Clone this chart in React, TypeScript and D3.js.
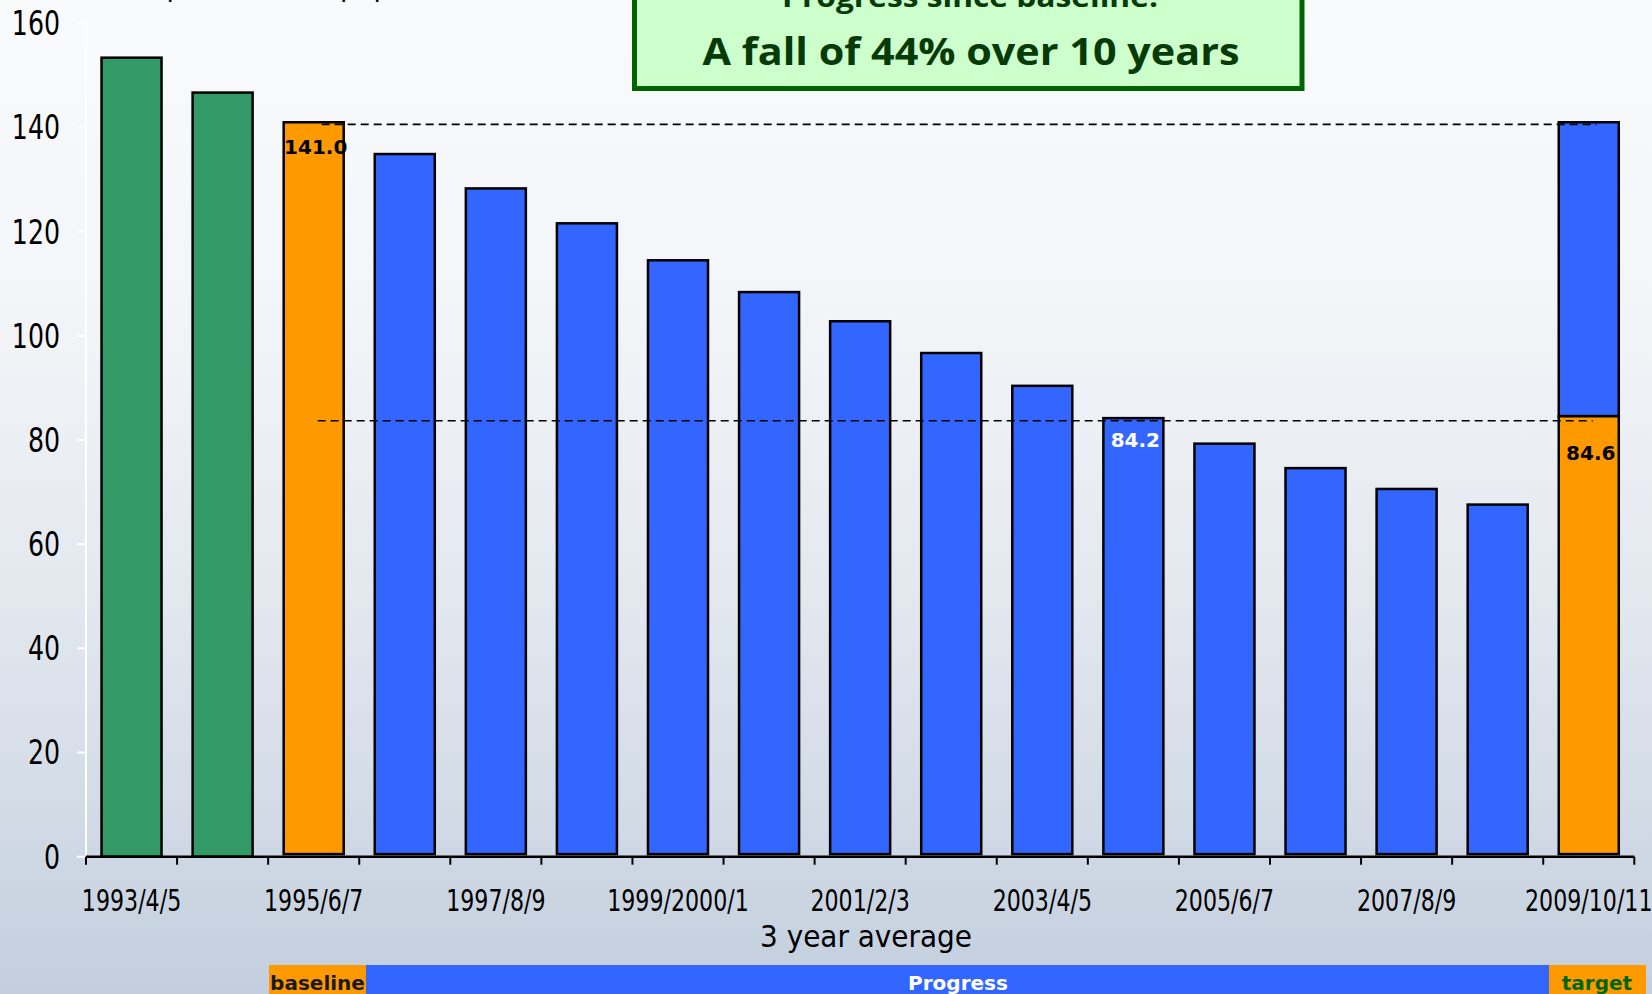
import React from "react";
import * as d3 from "d3";

const categories = [
  "1993/4/5", "1994/5/6", "1995/6/7", "1996/7/8", "1997/8/9", "1998/9/2000",
  "1999/2000/1", "2000/1/2", "2001/2/3", "2002/3/4", "2003/4/5", "2004/5/6",
  "2005/6/7", "2006/7/8", "2007/8/9", "2008/9/10", "2009/10/11",
];
const shownLabels = [
  "1993/4/5", "1995/6/7", "1997/8/9", "1999/2000/1", "2001/2/3",
  "2003/4/5", "2005/6/7", "2007/8/9", "2009/10/11",
];
// pre-baseline years (green)
const preBaseline: (number | null)[] = [153.4, 146.7, null, null, null, null, null, null, null, null, null, null, null, null, null, null, null];
// baseline and target (orange)
const baselineTarget: (number | null)[] = [null, null, 141.0, null, null, null, null, null, null, null, null, null, null, null, null, null, 84.6];
// progress (blue)
const progress: (number | null)[] = [null, null, null, 134.9, 128.3, 121.6, 114.5, 108.4, 102.8, 96.7, 90.4, 84.2, 79.3, 74.6, 70.6, 67.6, null];
// gap to baseline stacked on target (blue)
const targetGap: (number | null)[] = [null, null, null, null, null, null, null, null, null, null, null, null, null, null, null, null, 56.4];
const yTicks = [0, 20, 40, 60, 80, 100, 120, 140, 160];
const baselineValue = 140.6;
const targetLine = 83.7;
const valueLabels = [
  { cat: "1995/6/7", text: "141.0", value: 141.0, offset: 32, color: "#000" },
  { cat: "2004/5/6", text: "84.2", value: 84.2, offset: 29, color: "#fff" },
  { cat: "2009/10/11", text: "84.6", value: 84.6, offset: 44, color: "#000" },
];
const barBase = 0.5;

const W = 1652;
const H = 994;

const narrow = "'DejaVu Sans Condensed', 'DejaVu Sans', sans-serif";

function SqText(props: { x: number; y: number; sx: number; anchor: string; size: number; children: string; dy?: string }) {
  return (
    <g transform={`translate(${props.x},${props.y}) scale(${props.sx},1)`}>
      <text x={0} y={0} dy={props.dy} textAnchor={props.anchor} fontFamily={narrow} fontSize={props.size} fill="#000">
        {props.children}
      </text>
    </g>
  );
}

export default function App() {
  const x = d3.scaleBand<string>().domain(categories).range([86, 1634.3]).paddingInner(0.341).paddingOuter(0.1705);
  const y = d3.scaleLinear().domain([0, 160]).range([856.7, 23.3]);
  const bw = x.bandwidth();
  const step = x.step();
  const barStroke = { stroke: "#000", strokeWidth: 2.5 };

  const bars: React.ReactNode[] = [];
  categories.forEach((c, i) => {
    const x0 = x(c)!;
    const g = preBaseline[i];
    if (g != null) {
      bars.push(<rect key={"g" + i} x={x0} y={y(g)} width={bw} height={y(0) - y(g)} fill="#339966" {...barStroke} />);
    }
    const o = baselineTarget[i];
    if (o != null) {
      bars.push(<rect key={"o" + i} x={x0} y={y(o)} width={bw} height={y(barBase) - y(o)} fill="#ff9900" {...barStroke} />);
    }
    const b = progress[i];
    if (b != null) {
      bars.push(<rect key={"b" + i} x={x0} y={y(b)} width={bw} height={y(barBase) - y(b)} fill="#3366ff" {...barStroke} />);
    }
    const t = targetGap[i];
    if (t != null && o != null) {
      bars.push(<rect key={"t" + i} x={x0} y={y(o + t)} width={bw} height={y(o) - y(o + t)} fill="#3366ff" {...barStroke} />);
    }
  });

  const boundaries = d3.range(categories.length + 1).map((i) => 86 + i * step);
  const lineStart = x("1995/6/7")! + bw / 2 + 8;
  const lineEnd = x("2009/10/11")! + bw / 2 + 8;

  return (
    <svg width={W} height={H} style={{ position: "absolute", left: 0, top: 0, display: "block" }}>
      <defs>
        <linearGradient id="bg" x1="0" y1="0" x2="0" y2="1">
          <stop offset="0" stopColor="#f9fafc" />
          <stop offset="0.3" stopColor="#f3f5f8" />
          <stop offset="0.6" stopColor="#e3e8ef" />
          <stop offset="1" stopColor="#c3cfde" />
        </linearGradient>
      </defs>
      <rect x={0} y={0} width={W} height={H} fill="url(#bg)" />

      {/* cut-off axis title */}
      <text x={96} y={-4} fontFamily={narrow} fontSize={30} fill="#000">Rate per 100,000 population</text>

      {/* y axis (white) */}
      <line x1={86} x2={86} y1={y(160)} y2={y(0)} stroke="#fff" strokeWidth={2} />
      {yTicks.map((t) => (
        <g key={t}>
          <line x1={77} x2={86} y1={y(t)} y2={y(t)} stroke="#fff" strokeWidth={2} />
          <SqText x={60} y={y(t)} dy="0.36em" sx={0.85} anchor="end" size={33}>{String(t)}</SqText>
        </g>
      ))}

      {bars}

      {/* x axis */}
      <line x1={86} x2={boundaries[boundaries.length - 1]} y1={y(0)} y2={y(0)} stroke="#000" strokeWidth={2.5} />
      {boundaries.map((bx, i) => (
        <line key={i} x1={bx} x2={bx} y1={y(0)} y2={y(0) + 8} stroke="#000" strokeWidth={2} />
      ))}
      {shownLabels.map((l) => (
        <SqText key={l} x={x(l)! + bw / 2} y={911} sx={0.82} anchor="middle" size={30}>{l}</SqText>
      ))}
      <text x={866} y={947} textAnchor="middle" fontFamily={narrow} fontSize={31} fill="#000">3 year average</text>

      {/* dashed reference lines */}
      <line x1={lineStart} x2={lineEnd} y1={y(baselineValue)} y2={y(baselineValue)} stroke="#000" strokeWidth={1.7} strokeDasharray="8 5" />
      <line x1={lineStart - 4} x2={lineEnd - 4} y1={y(targetLine)} y2={y(targetLine)} stroke="#000" strokeWidth={1.7} strokeDasharray="8 5" />

      {/* value labels */}
      {valueLabels.map((v) => (
        <text key={v.text} x={x(v.cat)! + bw / 2 + 2} y={y(v.value) + v.offset} textAnchor="middle" fontFamily="'DejaVu Sans', sans-serif" fontWeight="bold" fontSize={20} fill={v.color}>{v.text}</text>
      ))}

      {/* title box */}
      <rect x={634.5} y={-10} width={667.5} height={98.5} fill="#ccffcc" stroke="#006400" strokeWidth={5} />
      <text x={970} y={7} textAnchor="middle" fontFamily="'Open Sans', sans-serif" fontWeight="bold" fontSize={28} fill="#063a06" textLength={376} lengthAdjust="spacingAndGlyphs">Progress since baseline:</text>
      <text x={971} y={65} textAnchor="middle" fontFamily="'Open Sans', sans-serif" fontWeight="bold" fontSize={38} fill="#063a06" textLength={537} lengthAdjust="spacingAndGlyphs">A fall of 44% over 10 years</text>

      {/* bottom band */}
      <rect x={269} y={965} width={97} height={29} fill="#ff9900" />
      <rect x={366} y={965} width={1183} height={29} fill="#3366ff" />
      <rect x={1549} y={965} width={97} height={29} fill="#ff9900" />
      <text x={317.5} y={990} textAnchor="middle" fontFamily="'DejaVu Sans', sans-serif" fontWeight="bold" fontSize={20} fill="#1a1a1a">baseline</text>
      <text x={958} y={990} textAnchor="middle" fontFamily="'DejaVu Sans', sans-serif" fontWeight="bold" fontSize={20} fill="#ffffff">Progress</text>
      <text x={1597} y={990} textAnchor="middle" fontFamily="'DejaVu Sans', sans-serif" fontWeight="bold" fontSize={20} fill="#006600">target</text>
    </svg>
  );
}
